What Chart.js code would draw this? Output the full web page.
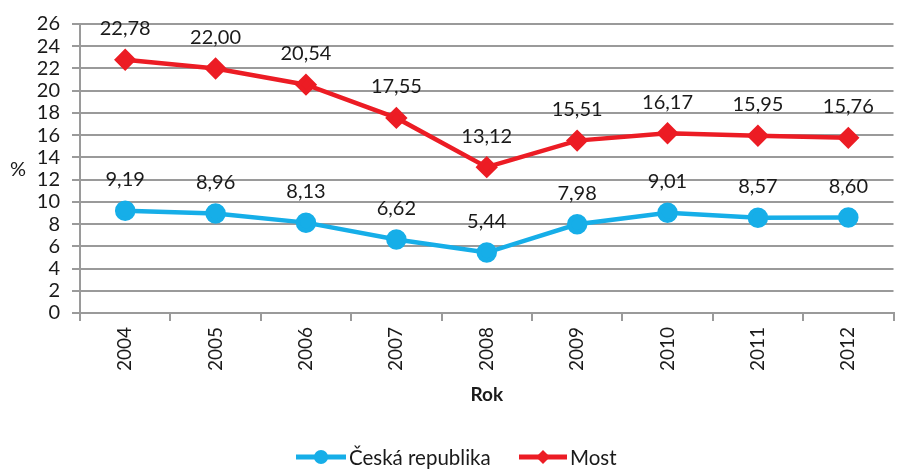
<!DOCTYPE html>
<html><head><meta charset="utf-8">
<script src="https://cdn.jsdelivr.net/npm/chart.js@4"></script>
<style>
html,body{margin:0;padding:0;background:#fff;overflow:hidden;width:897px;height:469px;}
#wrap{width:906px;height:469px;position:relative;}
</style></head>
<body><div id="wrap"><canvas id="c" width="906" height="469"></canvas></div>
<script>
const years = ['2004','2005','2006','2007','2008','2009','2010','2011','2012'];
const czValues = [9.19, 8.96, 8.13, 6.62, 5.44, 7.98, 9.01, 8.57, 8.60];
const mostValues = [22.78, 22.00, 20.54, 17.55, 13.12, 15.51, 16.17, 15.95, 15.76];
const seriesNames = ['Česká republika', 'Most'];
const xTitle = 'Rok';
const yTitle = '%';

const FONT = 'Lato, "Open Sans", sans-serif';
const BLUE = '#16aee8';
const RED = '#ec1c24';
const GRID = '#9a9a9a';

const fmt = v => v.toFixed(2).replace('.', ',');

const extras = {
  id: 'extras',
  afterDatasetsDraw(chart) {
    const ctx = chart.ctx;
    ctx.save();
    ctx.fillStyle = '#1a1a1a';
    ctx.font = '20px ' + FONT;
    ctx.textAlign = 'center';
    ctx.textBaseline = 'middle';
    chart.data.datasets.forEach((ds, i) => {
      const meta = chart.getDatasetMeta(i);
      meta.data.forEach((pt, j) => {
        ctx.fillText(fmt(ds.data[j]), pt.x, pt.y - 31);
      });
    });
    // y title
    ctx.font = '20px ' + FONT;
    const ya = chart.scales.y;
    ctx.fillText(yTitle, 18, (ya.top + ya.bottom) / 2 + 1);
    // legend
    const ly = 457;
    ctx.font = '20.5px ' + FONT;
    ctx.textAlign = 'left';
    const items = [
      {x: 296, ds: chart.data.datasets[0], len: 50},
      {x: 519, ds: chart.data.datasets[1], len: 48}
    ];
    items.forEach(it => {
      ctx.strokeStyle = it.ds.borderColor;
      ctx.lineWidth = 5;
      ctx.beginPath();
      ctx.moveTo(it.x, ly);
      ctx.lineTo(it.x + it.len, ly);
      ctx.stroke();
      ctx.fillStyle = it.ds.pointBackgroundColor;
      const cx = it.x + it.len / 2;
      ctx.beginPath();
      if (it.ds.pointStyle === 'circle') {
        ctx.arc(cx, ly, 7, 0, Math.PI * 2);
      } else {
        ctx.moveTo(cx, ly - 7); ctx.lineTo(cx + 7, ly); ctx.lineTo(cx, ly + 7); ctx.lineTo(cx - 7, ly); ctx.closePath();
      }
      ctx.fill();
      ctx.fillStyle = '#1a1a1a';
      ctx.fillText(it.ds.label, it.x + it.len + 3, ly + 1);
    });
    ctx.restore();
  }
};

new Chart(document.getElementById('c'), {
  type: 'line',
  data: {
    labels: years,
    datasets: [
      {label: seriesNames[0], data: czValues, borderColor: BLUE, backgroundColor: BLUE,
       pointBackgroundColor: BLUE, pointBorderColor: BLUE, pointStyle: 'circle', pointRadius: 8,
       borderWidth: 4.5, tension: 0},
      {label: seriesNames[1], data: mostValues, borderColor: RED, backgroundColor: RED,
       pointBackgroundColor: RED, pointBorderColor: RED, pointStyle: 'rectRot', pointRadius: 8,
       borderWidth: 4.5, tension: 0}
    ]
  },
  options: {
    responsive: false,
    animation: false,
    layout: {padding: {left: 0, right: 1, top: 22, bottom: 56}},
    plugins: {legend: {display: false}, tooltip: {enabled: false}},
    scales: {
      x: {
        offset: true,
        grid: {display: true, drawOnChartArea: false, offset: true, color: GRID, lineWidth: 2, tickLength: 8},
        border: {color: GRID, width: 2},
        ticks: {color: '#1a1a1a', font: {family: FONT, size: 19}, maxRotation: 90, minRotation: 90, padding: 6, autoSkip: false},
        title: {display: true, text: xTitle, color: '#1a1a1a', font: {family: FONT, size: 19, weight: 'bold'}, padding: {top: 2, bottom: 7}},
        afterFit: s => { s.height = 100; }
      },
      y: {
        min: 0, max: 26,
        ticks: {stepSize: 2, color: '#1a1a1a', font: {family: FONT, size: 20}, padding: 12, autoSkip: false},
        grid: {color: GRID, lineWidth: 2, tickLength: 8},
        border: {color: GRID, width: 2},
        afterFit: s => { s.width = 80; }
      }
    }
  },
  plugins: [extras]
});
</script>
</body></html>
